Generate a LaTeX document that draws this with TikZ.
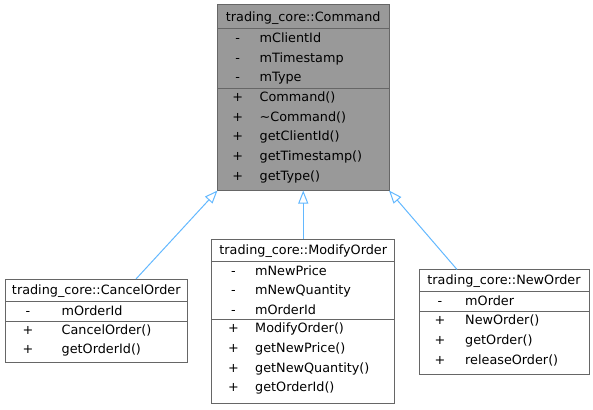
\documentclass[tikz,border=0pt]{standalone}
\usepackage{fontspec}
\setmainfont{DejaVu Sans}
\usetikzlibrary{arrows.meta}
\definecolor{boxedge}{HTML}{666666}
\definecolor{basefill}{HTML}{999999}
\definecolor{inhedge}{HTML}{63B8FF}
\begin{document}
\begin{tikzpicture}[x=1pt,y=-1pt,
    part/.style={draw=boxedge,fill=white,line width=1pt,inner sep=0pt,outer sep=0pt,anchor=north west},
    basepart/.style={part,fill=basefill},
    txt/.style={inner sep=0pt,anchor=base west,font=\fontsize{12.8}{15}\selectfont},
    sym/.style={txt,anchor=base},
    inh/.style={draw=inhedge,line width=1pt,-{Triangle[open,length=13pt,width=10pt]}}
  ]
  \useasboundingbox (0,0) rectangle (593,409);

  % base class
  \node[basepart,minimum width=171.5pt,minimum height=23.5pt] (cmd) at (217.5,5) {};
  \node[basepart,minimum width=171.5pt,minimum height=59.8pt] (cmdattr) at (cmd.south west) {};
  \node[basepart,minimum width=171.5pt,minimum height=102.2pt] (cmdmeth) at (cmdattr.south west) {};
  \node[sym] (cmdname) at (303.25,21.7) {trading\_core::Command};
  \foreach \y/\n [count=\i] in {42.5/mClientId,62.1/mTimestamp,81.7/mType} {
    \node[sym] (cmdas\i) at (237.7,\y) {-};
    \node[txt] (cmda\i) at (259.5,\y) {\n};
  }
  \foreach \y/\n [count=\i] in {101.6/Command(),121.2/\textasciitilde Command(),140.8/getClientId(),160.4/getTimestamp(),180/getType()} {
    \node[sym] (cmdms\i) at (237.7,\y) {+};
    \node[txt] (cmdm\i) at (259.5,\y) {\n};
  }

  % derived classes
  \node[part,minimum width=181.5pt,minimum height=22pt] (cancel) at (5.5,279) {};
  \node[part,minimum width=181.5pt,minimum height=20pt] (cancelattr) at (cancel.south west) {};
  \node[part,minimum width=181.5pt,minimum height=41pt] (cancelmeth) at (cancelattr.south west) {};
  \node[sym] (cancelname) at (96.25,294.2) {trading\_core::CancelOrder};
  \node[sym] (cancelas1) at (28,315) {-};
  \node[txt] (cancela1) at (61.5,315) {mOrderId};
  \foreach \y/\n [count=\i] in {334.3/CancelOrder(),353.9/getOrderId()} {
    \node[sym] (cancelms\i) at (28,\y) {+};
    \node[txt] (cancelm\i) at (61.5,\y) {\n};
  }

  \node[part,minimum width=183pt,minimum height=22pt] (modify) at (211.75,239) {};
  \node[part,minimum width=183pt,minimum height=58.5pt] (modifyattr) at (modify.south west) {};
  \node[part,minimum width=183pt,minimum height=83.5pt] (modifymeth) at (modifyattr.south west) {};
  \node[sym] (modifyname) at (303.25,254.2) {trading\_core::ModifyOrder};
  \foreach \y/\n [count=\i] in {275/mNewPrice,294.6/mNewQuantity,314.2/mOrderId} {
    \node[sym] (modifyas\i) at (233.5,\y) {-};
    \node[txt] (modifya\i) at (255,\y) {\n};
  }
  \foreach \y/\n [count=\i] in {332.8/ModifyOrder(),352.4/getNewPrice(),372/getNewQuantity(),391.6/getOrderId()} {
    \node[sym] (modifyms\i) at (233.5,\y) {+};
    \node[txt] (modifym\i) at (255,\y) {\n};
  }

  \node[part,minimum width=170pt,minimum height=22pt] (neworder) at (419,269.5) {};
  \node[part,minimum width=170pt,minimum height=20pt] (neworderattr) at (neworder.south west) {};
  \node[part,minimum width=170pt,minimum height=62.5pt] (newordermeth) at (neworderattr.south west) {};
  \node[sym] (newordername) at (504,284.7) {trading\_core::NewOrder};
  \node[sym] (neworderas1) at (440,305.5) {-};
  \node[txt] (newordera1) at (465,305.5) {mOrder};
  \foreach \y/\n [count=\i] in {324.8/NewOrder(),344.4/getOrder(),364/releaseOrder()} {
    \node[sym] (neworderms\i) at (440,\y) {+};
    \node[txt] (neworderm\i) at (465,\y) {\n};
  }

  % inheritance
  \draw[inh] ([xshift=39.75pt]cancel.north) -- (cmdmeth.south west);
  \draw[inh] (modify.north) -- (cmdmeth.south);
  \draw[inh] ([xshift=-47pt]neworder.north) -- (cmdmeth.south east);
\end{tikzpicture}
\end{document}
